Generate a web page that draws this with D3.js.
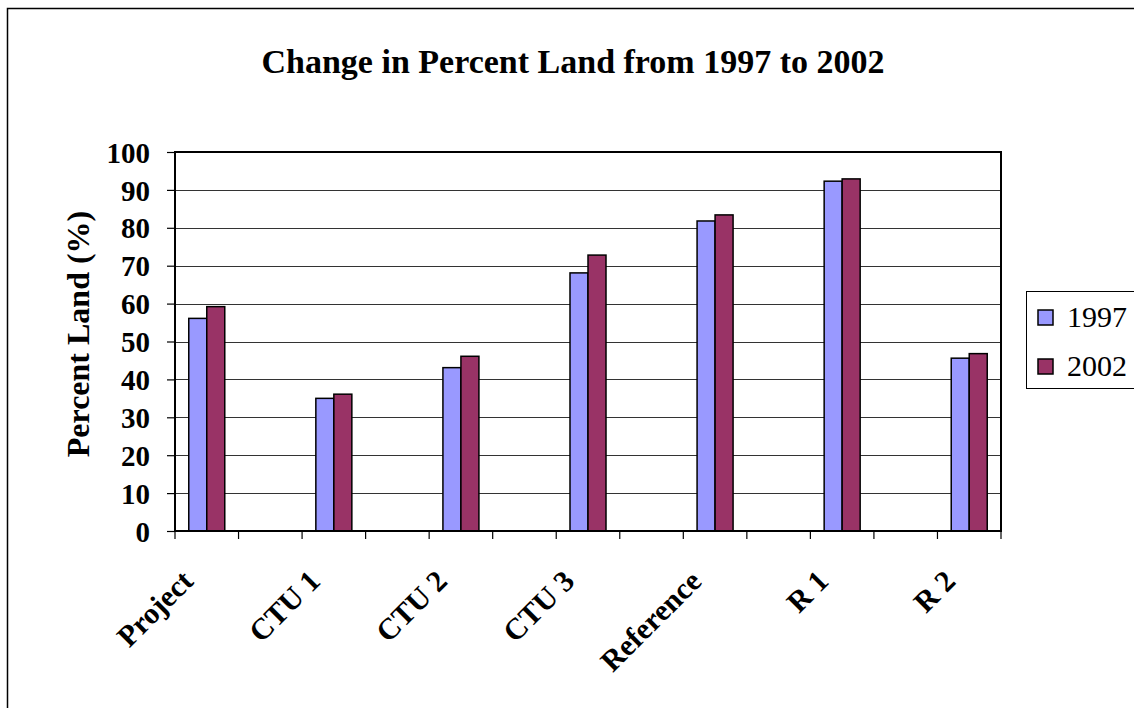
<!DOCTYPE html>
<html>
<head>
<meta charset="utf-8">
<script src="https://cdn.jsdelivr.net/npm/d3@7"></script>
<style>
  body { margin: 0; background: #fff; }
  svg { display: block; font-family: "Liberation Serif", "Times New Roman", serif; }
</style>
</head>
<body>
<script>
// categories, blanks are the empty slots Excel left between the groups
const categories = ["Project", "", "CTU 1", "", "CTU 2", "", "CTU 3", "", "Reference", "", "R 1", "", "R 2"];
const seriesNames = ["1997", "2002"];
const values1997 = [56.1, null, 35.0, null, 43.1, null, 68.1, null, 81.8, null, 92.3, null, 45.6];
const values2002 = [59.2, null, 36.1, null, 46.1, null, 72.8, null, 83.4, null, 92.9, null, 46.8];
const yTicks = [0, 10, 20, 30, 40, 50, 60, 70, 80, 90, 100];
const colors = ["#9999ff", "#993366"];

const width = 1134;
const height = 708;
const plot = {left: 175, right: 1001, top: 152, bottom: 531};

const svg = d3.select("body").append("svg")
    .attr("width", width)
    .attr("height", height);

svg.append("rect").attr("width", width).attr("height", height).attr("fill", "#fff");

// outer chart frame
svg.append("rect")
    .attr("x", 7.5).attr("y", 8.5)
    .attr("width", width + 20).attr("height", height + 20)
    .attr("fill", "none").attr("stroke", "#000").attr("stroke-width", 1.5);

const x = d3.scaleBand()
    .domain(d3.range(categories.length))
    .range([plot.left, plot.right])
    .padding(0);

const bw = x.bandwidth();
const xSub = d3.scaleBand()
    .domain(seriesNames)
    .range([bw / 2 - 18, bw / 2 + 18]);

const y = d3.scaleLinear().domain([0, 100]).range([plot.bottom, plot.top]);

// gridlines
svg.append("g").selectAll("line")
  .data(yTicks.filter(d => d > 0 && d < 100))
  .enter().append("line")
  .attr("x1", plot.left).attr("x2", plot.right)
  .attr("y1", d => Math.round(y(d)) + 0.5).attr("y2", d => Math.round(y(d)) + 0.5)
  .attr("stroke", "#333").attr("stroke-width", 1);

// bars
const table = categories.map((c, i) => ({i: i, vals: [values1997[i], values2002[i]]}));

const groups = svg.append("g").selectAll("g")
  .data(table.filter(d => d.vals[0] != null))
  .enter().append("g")
  .attr("transform", d => `translate(${x(d.i)},0)`);

groups.selectAll("rect")
  .data(d => d.vals.map((v, k) => ({name: seriesNames[k], v: v, k: k})))
  .enter().append("rect")
  .attr("x", d => xSub(d.name))
  .attr("width", xSub.bandwidth())
  .attr("y", d => y(d.v))
  .attr("height", d => y(0) - y(d.v))
  .attr("fill", d => colors[d.k])
  .attr("stroke", "#000")
  .attr("stroke-width", 1.5);

// plot frame
svg.append("rect")
    .attr("x", plot.left).attr("y", plot.top)
    .attr("width", plot.right - plot.left).attr("height", plot.bottom - plot.top)
    .attr("fill", "none").attr("stroke", "#000").attr("stroke-width", 2);

// y axis
const yAxis = svg.append("g")
    .attr("transform", `translate(${plot.left},0)`)
    .call(d3.axisLeft(y).tickValues(yTicks).tickSize(8).tickPadding(17));
yAxis.select(".domain").remove();
yAxis.selectAll("line").attr("stroke", "#000").attr("stroke-width", 1.2);
yAxis.selectAll("text")
    .attr("font-family", "Liberation Serif")
    .attr("font-size", 29).attr("font-weight", "bold").attr("fill", "#000")
    .attr("dy", "0.35em");

// x ticks at band boundaries
const xTickPos = d3.range(categories.length + 1).map(i => plot.left + i * bw);
svg.append("g").selectAll("line")
  .data(xTickPos)
  .enter().append("line")
  .attr("x1", d => d).attr("x2", d => d)
  .attr("y1", plot.bottom).attr("y2", plot.bottom + 8)
  .attr("stroke", "#000").attr("stroke-width", 1.2);

// x labels, rotated
svg.append("g").selectAll("text")
  .data(table.filter(d => categories[d.i] !== ""))
  .enter().append("text")
  .attr("transform", d => `translate(${x(d.i) + bw / 2 - 12},583) rotate(-45)`)
  .attr("text-anchor", "end")
  .attr("font-size", 30).attr("font-weight", "bold")
  .text(d => categories[d.i]);

// title
svg.append("text")
    .attr("x", 573).attr("y", 73)
    .attr("text-anchor", "middle")
    .attr("font-size", 34).attr("font-weight", "bold")
    .text("Change in Percent Land from 1997 to 2002");

// y axis title
svg.append("text")
    .attr("transform", `translate(89,334) rotate(-90)`)
    .attr("text-anchor", "middle")
    .attr("font-size", 32).attr("font-weight", "bold")
    .text("Percent Land (%)");

// legend
const legend = svg.append("g").attr("id", "legend");
legend.append("rect")
    .attr("x", 1026.5).attr("y", 291.5)
    .attr("width", 130).attr("height", 97)
    .attr("fill", "#fff").attr("stroke", "#000").attr("stroke-width", 1);

const items = legend.selectAll("g.item")
  .data(seriesNames)
  .enter().append("g")
  .attr("class", "item")
  .attr("transform", (d, i) => `translate(1038,${318 + i * 49})`);

items.append("rect")
    .attr("x", 0).attr("y", -8)
    .attr("width", 15).attr("height", 15)
    .attr("fill", (d, i) => colors[i])
    .attr("stroke", "#000").attr("stroke-width", 1.5);

items.append("text")
    .attr("x", 29).attr("y", 9)
    .attr("font-size", 30)
    .text(d => d);
</script>
</body>
</html>
